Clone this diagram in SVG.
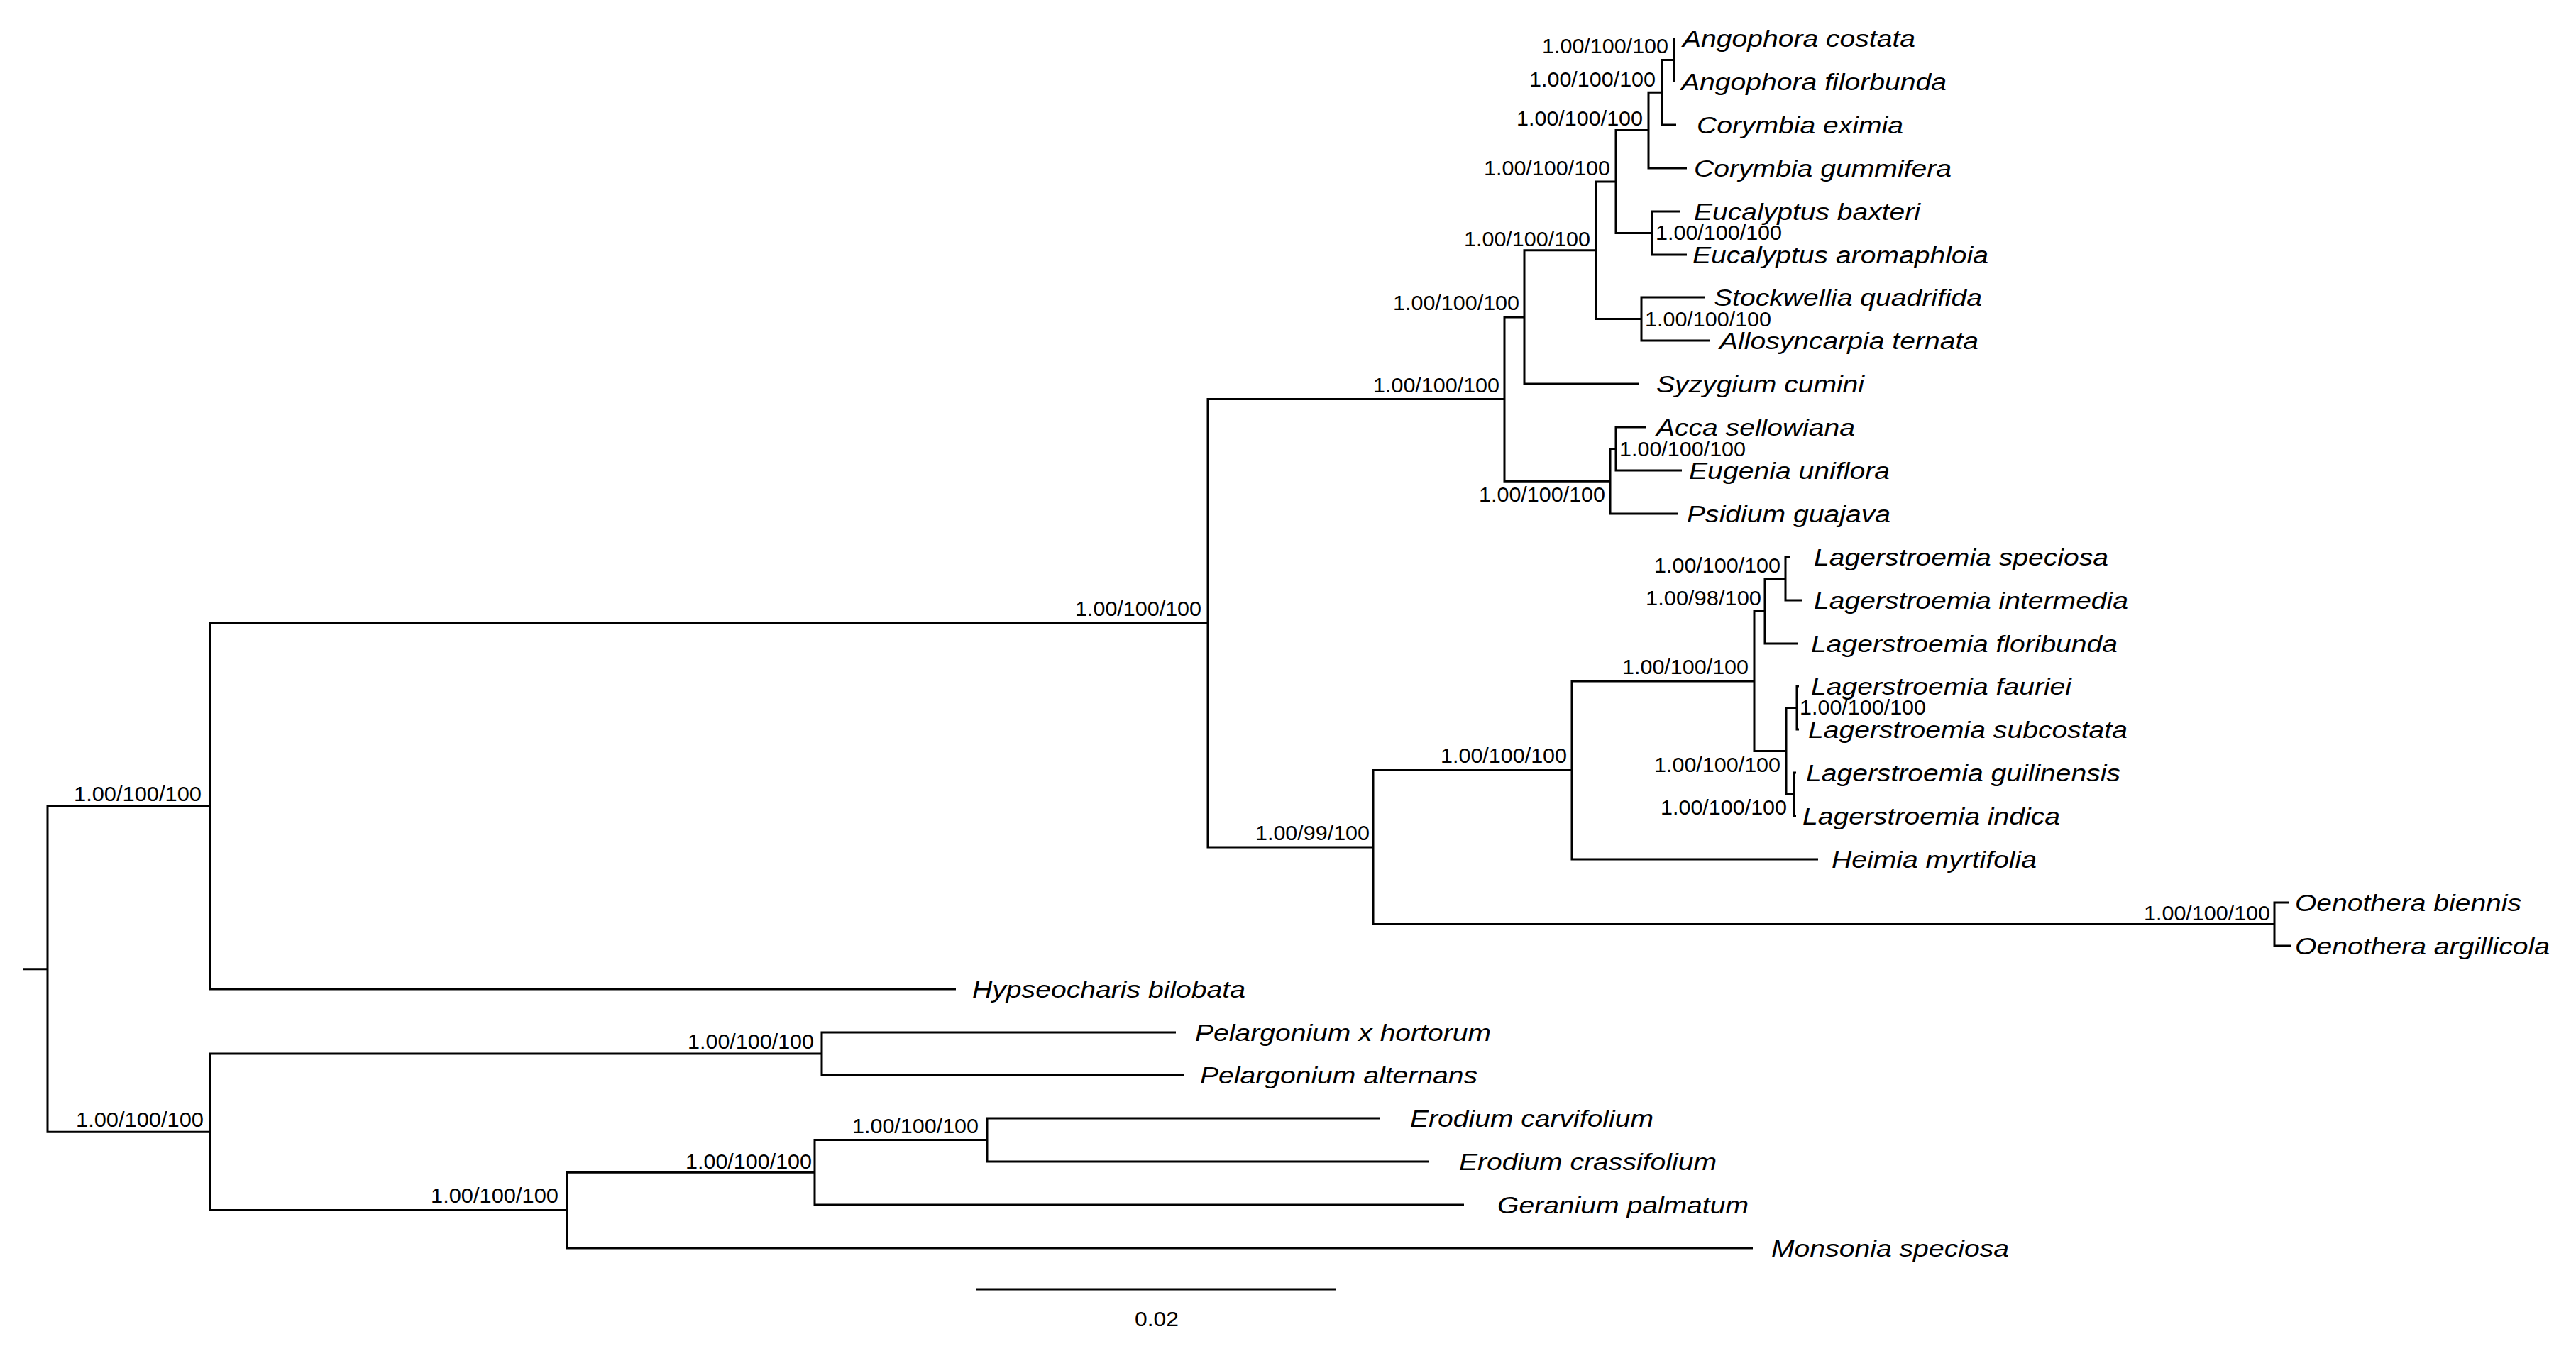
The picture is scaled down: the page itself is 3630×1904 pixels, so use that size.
<svg xmlns="http://www.w3.org/2000/svg" width="3630" height="1904" viewBox="0 0 3630 1904">
<style>
.br{fill:none;stroke:#000;stroke-width:3;stroke-linejoin:miter;stroke-linecap:butt}
.tip{font-family:"Liberation Sans",Arial,sans-serif;font-style:italic;font-size:33px;fill:#000}
.sup{font-family:"Liberation Sans",Arial,sans-serif;font-size:30px;fill:#000}
</style>
<rect width="3630" height="1904" fill="#fff"/>
<g id="connectors">
<path class="br" d="M33 1365.8H67"/>
<path class="br" d="M296 1136.2H67V1595.3H296"/>
<path class="br" d="M1702 878.3H296V1394H1347"/>
<path class="br" d="M2120 562.6H1702V1194H1935"/>
<path class="br" d="M2148 446.9H2120V678.25H2269"/>
<path class="br" d="M2249 352.8H2148V541H2310"/>
<path class="br" d="M2277 256H2249V449.5H2313"/>
<path class="br" d="M2323 183.6H2277V328.5H2328"/>
<path class="br" d="M2342 130.25H2323V237H2377"/>
<path class="br" d="M2359 84.5H2342V176H2362"/>
<path class="br" d="M2359 54V115"/>
<path class="br" d="M2367 298H2328V359H2377"/>
<path class="br" d="M2402 419H2313V480H2410"/>
<path class="br" d="M2277 632.5H2269V724H2364"/>
<path class="br" d="M2320 602H2277V663H2370"/>
<path class="br" d="M2215 1085.4H1935V1302.5H3205"/>
<path class="br" d="M2472 959.9H2215V1211H2562"/>
<path class="br" d="M2487 861.25H2472V1058.5H2517"/>
<path class="br" d="M2516 815.5H2487V907H2533"/>
<path class="br" d="M2523 785H2516V846H2539"/>
<path class="br" d="M2532 997.5H2517V1119.5H2528"/>
<path class="br" d="M2535 967H2532V1028H2535"/>
<path class="br" d="M2531 1089H2528V1150H2531"/>
<path class="br" d="M3226 1272H3205V1333H3228"/>
<path class="br" d="M1158 1485H296V1705.6H799"/>
<path class="br" d="M1657 1455H1158V1515H1668"/>
<path class="br" d="M1148 1652.25H799V1759H2470"/>
<path class="br" d="M1391 1606.5H1148V1698H2063"/>
<path class="br" d="M1944 1576H1391V1637H2014"/>
<path class="br" d="M1376 1817H1883"/>
</g>
<g id="tips">
<g id="t1"><text class="tip" x="2371" y="66" textLength="328" lengthAdjust="spacingAndGlyphs">Angophora costata</text></g>
<g id="t2"><text class="tip" x="2369" y="127" textLength="374" lengthAdjust="spacingAndGlyphs">Angophora filorbunda</text></g>
<g id="t3"><text class="tip" x="2391" y="188" textLength="291" lengthAdjust="spacingAndGlyphs">Corymbia eximia</text></g>
<g id="t4"><text class="tip" x="2387" y="249" textLength="363" lengthAdjust="spacingAndGlyphs">Corymbia gummifera</text></g>
<g id="t5"><text class="tip" x="2387" y="310" textLength="319" lengthAdjust="spacingAndGlyphs">Eucalyptus baxteri</text></g>
<g id="t6"><text class="tip" x="2385" y="371" textLength="417" lengthAdjust="spacingAndGlyphs">Eucalyptus aromaphloia</text></g>
<g id="t7"><text class="tip" x="2415" y="431" textLength="378" lengthAdjust="spacingAndGlyphs">Stockwellia quadrifida</text></g>
<g id="t8"><text class="tip" x="2423" y="492" textLength="365" lengthAdjust="spacingAndGlyphs">Allosyncarpia ternata</text></g>
<g id="t9"><text class="tip" x="2334" y="553" textLength="293" lengthAdjust="spacingAndGlyphs">Syzygium cumini</text></g>
<g id="t10"><text class="tip" x="2334" y="614" textLength="280" lengthAdjust="spacingAndGlyphs">Acca sellowiana</text></g>
<g id="t11"><text class="tip" x="2380" y="675" textLength="283" lengthAdjust="spacingAndGlyphs">Eugenia uniflora</text></g>
<g id="t12"><text class="tip" x="2377" y="736" textLength="287" lengthAdjust="spacingAndGlyphs">Psidium guajava</text></g>
<g id="t13"><text class="tip" x="2556" y="797" textLength="415" lengthAdjust="spacingAndGlyphs">Lagerstroemia speciosa</text></g>
<g id="t14"><text class="tip" x="2556" y="858" textLength="443" lengthAdjust="spacingAndGlyphs">Lagerstroemia intermedia</text></g>
<g id="t15"><text class="tip" x="2552" y="919" textLength="432" lengthAdjust="spacingAndGlyphs">Lagerstroemia floribunda</text></g>
<g id="t16"><text class="tip" x="2552" y="979" textLength="367" lengthAdjust="spacingAndGlyphs">Lagerstroemia fauriei</text></g>
<g id="t17"><text class="tip" x="2548" y="1040" textLength="450" lengthAdjust="spacingAndGlyphs">Lagerstroemia subcostata</text></g>
<g id="t18"><text class="tip" x="2545" y="1101" textLength="443" lengthAdjust="spacingAndGlyphs">Lagerstroemia guilinensis</text></g>
<g id="t19"><text class="tip" x="2540" y="1162" textLength="363" lengthAdjust="spacingAndGlyphs">Lagerstroemia indica</text></g>
<g id="t20"><text class="tip" x="2581" y="1223" textLength="289" lengthAdjust="spacingAndGlyphs">Heimia myrtifolia</text></g>
<g id="t21"><text class="tip" x="3234" y="1284" textLength="319" lengthAdjust="spacingAndGlyphs">Oenothera biennis</text></g>
<g id="t22"><text class="tip" x="3234" y="1345" textLength="359" lengthAdjust="spacingAndGlyphs">Oenothera argillicola</text></g>
<g id="t23"><text class="tip" x="1370" y="1406" textLength="385" lengthAdjust="spacingAndGlyphs">Hypseocharis bilobata</text></g>
<g id="t24"><text class="tip" x="1684" y="1467" textLength="417" lengthAdjust="spacingAndGlyphs">Pelargonium x hortorum</text></g>
<g id="t25"><text class="tip" x="1691" y="1527" textLength="391" lengthAdjust="spacingAndGlyphs">Pelargonium alternans</text></g>
<g id="t26"><text class="tip" x="1987" y="1588" textLength="343" lengthAdjust="spacingAndGlyphs">Erodium carvifolium</text></g>
<g id="t27"><text class="tip" x="2056" y="1649" textLength="363" lengthAdjust="spacingAndGlyphs">Erodium crassifolium</text></g>
<g id="t28"><text class="tip" x="2110" y="1710" textLength="354" lengthAdjust="spacingAndGlyphs">Geranium palmatum</text></g>
<g id="t29"><text class="tip" x="2496" y="1771" textLength="335" lengthAdjust="spacingAndGlyphs">Monsonia speciosa</text></g>
</g>
<g id="supports">
<g id="n-ang"><text class="sup" x="2173" y="75" textLength="178" lengthAdjust="spacingAndGlyphs">1.00/100/100</text></g>
<g id="n-angce"><text class="sup" x="2155" y="122" textLength="178" lengthAdjust="spacingAndGlyphs">1.00/100/100</text></g>
<g id="n-angcecg"><text class="sup" x="2137" y="177" textLength="178" lengthAdjust="spacingAndGlyphs">1.00/100/100</text></g>
<g id="n-euc"><text class="sup" x="2333" y="338" textLength="178" lengthAdjust="spacingAndGlyphs">1.00/100/100</text></g>
<g id="n-coreuc"><text class="sup" x="2091" y="247" textLength="178" lengthAdjust="spacingAndGlyphs">1.00/100/100</text></g>
<g id="n-ces"><text class="sup" x="2063" y="347" textLength="178" lengthAdjust="spacingAndGlyphs">1.00/100/100</text></g>
<g id="n-stock"><text class="sup" x="2318" y="460" textLength="178" lengthAdjust="spacingAndGlyphs">1.00/100/100</text></g>
<g id="n-syz"><text class="sup" x="1963" y="437" textLength="178" lengthAdjust="spacingAndGlyphs">1.00/100/100</text></g>
<g id="n-myrtaceae"><text class="sup" x="1935" y="553" textLength="178" lengthAdjust="spacingAndGlyphs">1.00/100/100</text></g>
<g id="n-acceug"><text class="sup" x="2282" y="643" textLength="178" lengthAdjust="spacingAndGlyphs">1.00/100/100</text></g>
<g id="n-aep"><text class="sup" x="2084" y="707" textLength="178" lengthAdjust="spacingAndGlyphs">1.00/100/100</text></g>
<g id="n-myrtales"><text class="sup" x="1515" y="868" textLength="178" lengthAdjust="spacingAndGlyphs">1.00/100/100</text></g>
<g id="n-lsli"><text class="sup" x="2331" y="807" textLength="178" lengthAdjust="spacingAndGlyphs">1.00/100/100</text></g>
<g id="n-lslilf"><text class="sup" x="2319" y="853" textLength="163" lengthAdjust="spacingAndGlyphs">1.00/98/100</text></g>
<g id="n-lager"><text class="sup" x="2286" y="950" textLength="178" lengthAdjust="spacingAndGlyphs">1.00/100/100</text></g>
<g id="n-lfalsu"><text class="sup" x="2536" y="1007" textLength="178" lengthAdjust="spacingAndGlyphs">1.00/100/100</text></g>
<g id="n-l4"><text class="sup" x="2331" y="1088" textLength="178" lengthAdjust="spacingAndGlyphs">1.00/100/100</text></g>
<g id="n-lgulin"><text class="sup" x="2340" y="1148" textLength="178" lengthAdjust="spacingAndGlyphs">1.00/100/100</text></g>
<g id="n-laghei"><text class="sup" x="2030" y="1075" textLength="178" lengthAdjust="spacingAndGlyphs">1.00/100/100</text></g>
<g id="n-lythonag"><text class="sup" x="1769" y="1184" textLength="161" lengthAdjust="spacingAndGlyphs">1.00/99/100</text></g>
<g id="n-oeno"><text class="sup" x="3021" y="1297" textLength="178" lengthAdjust="spacingAndGlyphs">1.00/100/100</text></g>
<g id="n-mh"><text class="sup" x="104" y="1129" textLength="180" lengthAdjust="spacingAndGlyphs">1.00/100/100</text></g>
<g id="n-geran"><text class="sup" x="107" y="1588" textLength="180" lengthAdjust="spacingAndGlyphs">1.00/100/100</text></g>
<g id="n-pel"><text class="sup" x="969" y="1478" textLength="178" lengthAdjust="spacingAndGlyphs">1.00/100/100</text></g>
<g id="n-erge"><text class="sup" x="966" y="1647" textLength="178" lengthAdjust="spacingAndGlyphs">1.00/100/100</text></g>
<g id="n-erod"><text class="sup" x="1201" y="1597" textLength="178" lengthAdjust="spacingAndGlyphs">1.00/100/100</text></g>
<g id="n-ergemo"><text class="sup" x="607" y="1695" textLength="180" lengthAdjust="spacingAndGlyphs">1.00/100/100</text></g>
</g>
<g id="scale"><text class="sup" x="1599" y="1869" textLength="62" lengthAdjust="spacingAndGlyphs">0.02</text></g>
</svg>
